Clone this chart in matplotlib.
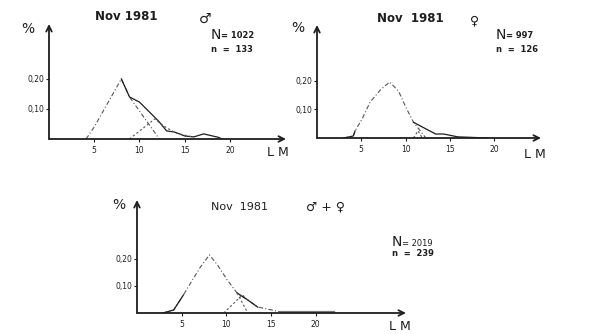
import numpy as np
import matplotlib.pyplot as plt

# values (LM = length class, y = frequency)
ticks_x = [5, 10, 15, 20]
ticks_y = [0.10, 0.20]
ticklabels_y = ["0,10", "0,20"]

# male
m_comp1_x = [4.1, 5, 8, 8.9, 12.2]
m_comp1_y = [0, 0.04, 0.20, 0.14, 0]
m_total_x = [8, 8.9, 10, 12.1, 13, 13.9, 15, 16, 17.1, 18.8, 19.1]
m_total_y = [0.20, 0.14, 0.123, 0.06, 0.027, 0.023, 0.01, 0.007, 0.017, 0.005, 0]
m_comp2_x = [8.9, 11.7, 12.6, 14, 16]
m_comp2_y = [0, 0.067, 0.045, 0.02, 0.006]

# female
f_comp1_x = [3, 4.1, 4.3, 5.1, 6, 7.2, 8.2, 9.2, 10, 10.9, 12.3]
f_comp1_y = [0, 0.007, 0.025, 0.067, 0.126, 0.17, 0.196, 0.165, 0.11, 0.055, 0]
f_total_x = [3, 4.1, 4.3, np.nan, 10.9, 13.4, 14.3, 15.9, 19.3]
f_total_y = [0, 0.007, 0.025, np.nan, 0.055, 0.014, 0.014, 0.004, 0]
f_comp2_x = [10.9, 11.4, 11.9]
f_comp2_y = [0, 0.025, 0]

# male + female
b_total_x = [2.9, 4.1, 5.2, 6.2, 7.1, 8.1, 9, 10.1, 11.2, 12.4, 13.5, 16.1, 22]
b_total_y = [0, 0.011, 0.067, 0.122, 0.17, 0.215, 0.178, 0.122, 0.074, 0.048, 0.022, 0.004, 0.004]
b_comp1_x = [11.2, 12.4]
b_comp1_y = [0.074, 0]
b_comp2_x = [9.7, 11.8, 12.4]
b_comp2_y = [0, 0.067, 0.048]

W, H = 600, 334
ink = '#1e1e1e'
grey = '#555555'

fig = plt.figure(figsize=(6, 3.34), dpi=100)
fig.patch.set_facecolor('white')


def px_axes(x0, y_base, x1, y_top, xmax, ymax):
    ax = fig.add_axes([x0 / W, 1 - y_base / H, (x1 - x0) / W, (y_base - y_top) / H])
    ax.set_xlim(0, xmax)
    ax.set_ylim(0, ymax)
    for s in ['top', 'right', 'left', 'bottom']:
        ax.spines[s].set_visible(False)
    ax.annotate('', xy=(1, 0), xytext=(0, 0), xycoords='axes fraction',
                arrowprops=dict(arrowstyle='->', lw=1.3, color=ink, shrinkA=0, shrinkB=0))
    ax.annotate('', xy=(0, 1), xytext=(0, 0), xycoords='axes fraction',
                arrowprops=dict(arrowstyle='->', lw=1.3, color=ink, shrinkA=0, shrinkB=0))
    ax.set_xticks(ticks_x)
    ax.set_xticklabels([str(t) for t in ticks_x])
    ax.set_yticks(ticks_y)
    ax.set_yticklabels(ticklabels_y)
    ax.tick_params(length=2, width=0.8, colors=ink, labelsize=5.5)
    ax.tick_params(axis='x', pad=3)
    ax.tick_params(axis='y', pad=1)
    ax.patch.set_alpha(0)
    return ax


def ftext(x, y, s, size, **kw):
    fig.text(x / W, 1 - y / H, s, fontsize=size, color=ink, ha='left', va='center', **kw)


# panel 1
ax1 = px_axes(49, 139, 286, 24, 26.2, 0.383)
ax1.plot(m_comp1_x, m_comp1_y, color=grey, lw=0.8, ls=(0, (4, 2, 1, 2)))
ax1.plot(m_total_x, m_total_y, color=ink, lw=0.9)
ax1.plot(m_comp2_x, m_comp2_y, color=grey, lw=0.8, ls=(0, (2, 2)))
ftext(95, 17, "Nov 1981", 8.5, fontweight='bold')
ftext(199, 19, "\u2642", 10, fontweight='bold')
ftext(211, 35, "N", 10)
ftext(221, 36, "= 1022", 6, fontweight='bold')
ftext(211, 50, "n  =  133", 6, fontweight='bold')
ftext(21, 29, "%", 10)
ftext(267, 153, "L M", 9)

# panel 2
ax2 = px_axes(317, 138, 541, 25, 25.3, 0.396)
ax2.plot(f_comp1_x, f_comp1_y, color=grey, lw=0.8, ls=(0, (4, 2, 1, 2)))
ax2.plot(f_total_x, f_total_y, color=ink, lw=0.9)
ax2.plot(f_comp2_x, f_comp2_y, color=grey, lw=0.8, ls=(0, (2, 2)))
ftext(377, 19, "Nov  1981", 8.5, fontweight='bold')
ftext(470, 21, "\u2640", 9, fontweight='bold')
ftext(496, 35, "N", 10)
ftext(506, 36, "= 997", 6, fontweight='bold')
ftext(496, 50, "n  =  126", 6, fontweight='bold')
ftext(291, 28, "%", 10)
ftext(524, 154, "L M", 9)

# panel 3
ax3 = px_axes(137, 313, 406, 200, 30.1, 0.418)
ax3.plot(b_total_x, b_total_y, color=grey, lw=0.8, ls=(0, (4, 2, 1, 2)))
ax3.plot(b_total_x[:3], b_total_y[:3], color=ink, lw=0.9)
ax3.plot(b_total_x[8:11], b_total_y[8:11], color=ink, lw=0.9)
ax3.plot(b_total_x[11:], b_total_y[11:], color='#777777', lw=1.6)
ax3.plot(b_comp1_x, b_comp1_y, color=grey, lw=0.8, ls=(0, (2, 2)))
ax3.plot(b_comp2_x, b_comp2_y, color=grey, lw=0.8, ls=(0, (2, 2)))
ftext(211, 207, "Nov  1981", 8)
ftext(306, 207, "\u2642 + \u2640", 9)
ftext(392, 242, "N", 10)
ftext(402, 243, "= 2019", 6)
ftext(392, 253, "n  =  239", 6, fontweight='bold')
ftext(112, 205, "%", 10)
ftext(389, 326, "L M", 9)

fig.savefig('out.png', dpi=100, facecolor='white')
